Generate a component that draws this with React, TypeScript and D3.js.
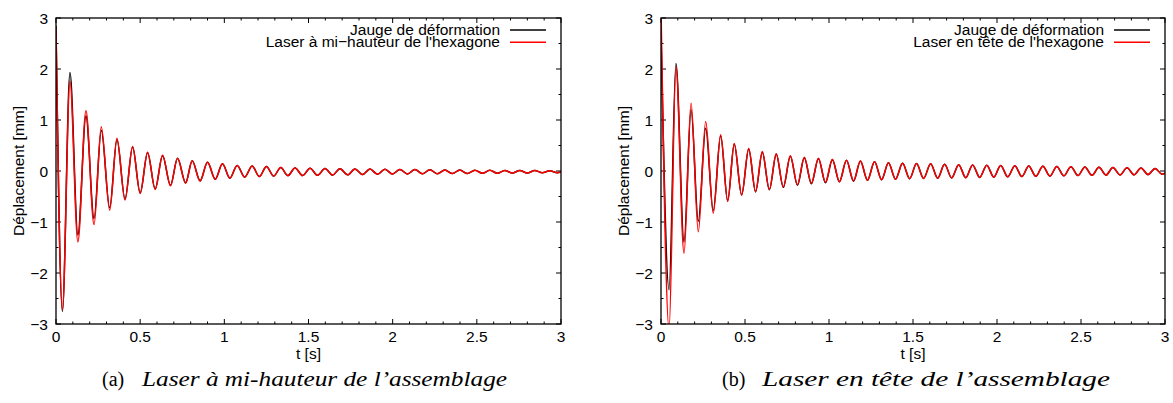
import React from "react";
import * as d3 from "d3";

// ---------- data (extrema) ----------
const tLeft = [0.000, 0.038, 0.083, 0.130, 0.178, 0.226, 0.269, 0.319, 0.362, 0.410, 0.455, 0.500, 0.544, 0.589, 0.633, 0.680, 0.722, 0.770, 0.809, 0.856, 0.900, 0.946, 0.989, 1.033, 1.076, 1.121, 1.165, 1.208, 1.250, 1.293, 1.335, 1.378, 1.420, 1.465, 1.509, 1.554, 1.598, 1.643, 1.687, 1.732, 1.776, 1.821, 1.865, 1.910, 1.954, 1.999, 2.043, 2.088, 2.132, 2.177, 2.221, 2.266, 2.310, 2.355, 2.399, 2.444, 2.488, 2.533, 2.577, 2.622, 2.666, 2.711, 2.755, 2.800, 2.844, 2.889, 2.933, 2.978, 3.000];
const gaugeLeft = [2.85, -2.75, 1.93, -1.25, 1.08, -0.93, 0.80, -0.72, 0.62, -0.55, 0.47, -0.43, 0.36, -0.35, 0.30, -0.28, 0.25, -0.23, 0.20, -0.19, 0.17, -0.16, 0.14, -0.14, 0.11, -0.12, 0.10, -0.11, 0.09, -0.10, 0.07, -0.09, 0.06, -0.09, 0.055, -0.085, 0.05, -0.08, 0.045, -0.075, 0.04, -0.07, 0.04, -0.065, 0.035, -0.06, 0.03, -0.06, 0.03, -0.055, 0.025, -0.055, 0.02, -0.05, 0.02, -0.05, 0.015, -0.045, 0.015, -0.045, 0.01, -0.04, 0.01, -0.04, 0.01, -0.035, 0.005, -0.035, -0.02];
const laserLeft = [2.80, -2.72, 1.76, -1.39, 1.18, -1.05, 0.87, -0.77, 0.64, -0.57, 0.48, -0.44, 0.37, -0.36, 0.31, -0.29, 0.25, -0.24, 0.20, -0.20, 0.17, -0.16, 0.14, -0.14, 0.11, -0.12, 0.10, -0.11, 0.09, -0.10, 0.07, -0.09, 0.06, -0.09, 0.055, -0.085, 0.05, -0.08, 0.045, -0.075, 0.04, -0.07, 0.04, -0.065, 0.035, -0.06, 0.03, -0.06, 0.03, -0.055, 0.025, -0.055, 0.02, -0.05, 0.02, -0.05, 0.015, -0.045, 0.015, -0.045, 0.01, -0.04, 0.01, -0.04, 0.01, -0.035, 0.005, -0.035, -0.02];

const tRight = [0.000, 0.048, 0.089, 0.137, 0.179, 0.222, 0.266, 0.311, 0.355, 0.397, 0.436, 0.480, 0.522, 0.563, 0.603, 0.645, 0.686, 0.728, 0.770, 0.812, 0.853, 0.895, 0.937, 0.979, 1.020, 1.062, 1.104, 1.146, 1.187, 1.229, 1.271, 1.313, 1.354, 1.396, 1.438, 1.480, 1.521, 1.563, 1.605, 1.647, 1.688, 1.730, 1.772, 1.814, 1.855, 1.897, 1.939, 1.981, 2.022, 2.064, 2.106, 2.148, 2.189, 2.231, 2.273, 2.315, 2.356, 2.398, 2.440, 2.482, 2.523, 2.565, 2.607, 2.649, 2.690, 2.732, 2.774, 2.816, 2.857, 2.899, 2.941, 2.983, 3.000];
const gaugeRight = [2.70, -2.33, 2.11, -1.39, 1.20, -0.99, 0.84, -0.78, 0.69, -0.58, 0.53, -0.47, 0.43, -0.41, 0.37, -0.37, 0.33, -0.32, 0.29, -0.28, 0.26, -0.25, 0.24, -0.23, 0.22, -0.21, 0.21, -0.20, 0.19, -0.18, 0.18, -0.17, 0.16, -0.16, 0.15, -0.15, 0.145, -0.145, 0.14, -0.14, 0.13, -0.135, 0.125, -0.13, 0.12, -0.125, 0.115, -0.12, 0.11, -0.115, 0.105, -0.11, 0.10, -0.105, 0.095, -0.10, 0.09, -0.095, 0.085, -0.09, 0.08, -0.085, 0.075, -0.08, 0.07, -0.078, 0.065, -0.075, 0.06, -0.07, 0.05, -0.065, -0.04];
const laserRight = [3.20, -3.10, 2.05, -1.61, 1.33, -1.19, 0.97, -0.83, 0.71, -0.60, 0.54, -0.47, 0.44, -0.40, 0.38, -0.36, 0.34, -0.31, 0.30, -0.27, 0.27, -0.24, 0.25, -0.22, 0.23, -0.21, 0.21, -0.19, 0.20, -0.18, 0.18, -0.17, 0.16, -0.16, 0.15, -0.15, 0.145, -0.145, 0.14, -0.14, 0.13, -0.135, 0.125, -0.13, 0.12, -0.125, 0.115, -0.12, 0.11, -0.115, 0.105, -0.11, 0.10, -0.105, 0.095, -0.10, 0.09, -0.095, 0.085, -0.09, 0.08, -0.085, 0.075, -0.08, 0.07, -0.078, 0.065, -0.075, 0.06, -0.07, 0.05, -0.065, -0.04];

const xTicks = [0, 0.5, 1, 1.5, 2, 2.5, 3];
const xTickLabels = ["0", "0.5", "1", "1.5", "2", "2.5", "3"];
const yTicks = [-3, -2, -1, 0, 1, 2, 3];
const yTickLabels = ["\u22123", "\u22122", "\u22121", "0", "1", "2", "3"];
const xMinor = d3.range(0, 3.0001, 0.1);
const yMinor = d3.range(-3, 3.0001, 0.5);

const seriesNamesLeft = ["Jauge de déformation", "Laser à mi\u2212hauteur de l'hexagone"];
const seriesNamesRight = ["Jauge de déformation", "Laser en tête de l'hexagone"];
const captionLeft = ["(a)", "Laser à mi-hauteur de l\u2019assemblage"];
const captionRight = ["(b)", "Laser en tête de l\u2019assemblage"];
const xLabel = "t [s]";
const yLabel = "Déplacement [mm]";

const FONT = "'Liberation Sans', Arial, Helvetica, sans-serif";
const SERIF = "'Liberation Serif', 'Times New Roman', serif";
const FS = 15.5;

type PanelProps = {
  id: string;
  x0: number; x1: number; y0: number; y1: number;
  t: number[]; gauge: number[]; laser: number[];
  names: string[];
  caption: string[];
  capX: number; capEnd: number;
};

function Panel(p: PanelProps) {
  const x = d3.scaleLinear().domain([0, 3]).range([p.x0, p.x1]);
  const y = d3.scaleLinear().domain([-3, 3]).range([p.y1, p.y0]);
  const line = d3.line<number>()
    .x((_, i) => x(p.t[i]))
    .y((v) => y(v))
    .curve(d3.curveMonotoneX);
  const cx = (p.x0 + p.x1) / 2;
  const cy = (p.y0 + p.y1) / 2;
  const majL = 5, minL = 2.5;
  const isMajX = (v: number) => Math.abs(v * 2 - Math.round(v * 2)) < 1e-6;
  const isMajY = (v: number) => Math.abs(v - Math.round(v)) < 1e-6;
  const italStart = p.capX + 40;
  return (
    <g>
      <defs>
        <clipPath id={p.id}>
          <rect x={p.x0} y={p.y0} width={p.x1 - p.x0} height={p.y1 - p.y0} />
        </clipPath>
      </defs>
      {xMinor.map((v, i) => {
        const L = isMajX(v) ? majL : minL;
        return (
          <g key={"xt" + i} stroke="#000" strokeWidth={1}>
            <line x1={x(v)} x2={x(v)} y1={p.y1} y2={p.y1 - L} />
            <line x1={x(v)} x2={x(v)} y1={p.y0} y2={p.y0 + L} />
          </g>
        );
      })}
      {yMinor.map((v, i) => {
        const L = isMajY(v) ? majL : minL;
        return (
          <g key={"yt" + i} stroke="#000" strokeWidth={1}>
            <line x1={p.x0} x2={p.x0 + L} y1={y(v)} y2={y(v)} />
            <line x1={p.x1} x2={p.x1 - L} y1={y(v)} y2={y(v)} />
          </g>
        );
      })}
      <g clipPath={`url(#${p.id})`}>
        <path d={line(p.gauge) || ""} fill="none" stroke="#000" strokeWidth={1.5} />
        <path d={line(p.laser) || ""} fill="none" stroke="#f00" strokeWidth={1.5} />
      </g>
      <rect x={p.x0} y={p.y0} width={p.x1 - p.x0} height={p.y1 - p.y0} fill="none" stroke="#000" strokeWidth={1.3} />
      {xTicks.map((v, i) => (
        <text key={"xl" + i} x={x(v)} y={p.y1 + 18} textAnchor="middle" fontFamily={FONT} fontSize={FS}>{xTickLabels[i]}</text>
      ))}
      {yTicks.map((v, i) => (
        <text key={"yl" + i} x={p.x0 - 8} y={y(v) + 5.5} textAnchor="end" fontFamily={FONT} fontSize={FS}>{yTickLabels[i]}</text>
      ))}
      <text x={cx} y={p.y1 + 35} textAnchor="middle" fontFamily={FONT} fontSize={FS}>{xLabel}</text>
      <text transform={`translate(${p.x0 - 32},${cy}) rotate(-90)`} textAnchor="middle" fontFamily={FONT} fontSize={FS}>{yLabel}</text>
      {p.names.map((n, i) => (
        <g key={"lg" + i}>
          <text x={p.x1 - 61} y={34.5 + i * 12.3} textAnchor="end" fontFamily={FONT} fontSize={FS}>{n}</text>
          <line x1={p.x1 - 51} x2={p.x1 - 15} y1={30 + i * 12.3} y2={30 + i * 12.3} stroke={i === 0 ? "#000" : "#f00"} strokeWidth={1.5} />
        </g>
      ))}
      <text x={p.capX} y={386} fontFamily={SERIF} fontSize={20}>{p.caption[0]}</text>
      <text x={italStart} y={386} fontFamily={SERIF} fontSize={21} fontStyle="italic"
        textLength={p.capEnd - italStart} lengthAdjust="spacingAndGlyphs">{p.caption[1]}</text>
    </g>
  );
}

export default function App() {
  return (
    <svg width={1173} height={403} style={{ position: "absolute", left: 0, top: 0, background: "#fff" }}>
      <rect width={1173} height={403} fill="#fff" />
      <Panel id="clipL" x0={56} x1={561} y0={18} y1={324} t={tLeft} gauge={gaugeLeft} laser={laserLeft}
        names={seriesNamesLeft} caption={captionLeft} capX={102} capEnd={507} />
      <Panel id="clipR" x0={661} x1={1165} y0={18} y1={324} t={tRight} gauge={gaugeRight} laser={laserRight}
        names={seriesNamesRight} caption={captionRight} capX={722} capEnd={1110} />
    </svg>
  );
}
